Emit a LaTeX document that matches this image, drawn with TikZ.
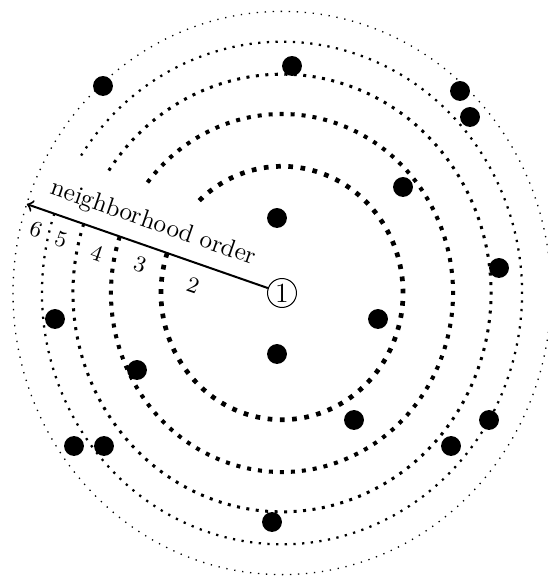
\documentclass[tikz,border=0pt]{standalone}
\begin{document}
\begin{tikzpicture}[x=0.397pt,y=0.397pt,
  c2/.style={line width=1.87pt, dash pattern=on 1.87pt off 3.0pt},
  c3/.style={line width=1.6pt, dash pattern=on 1.6pt off 2.77pt},
  c4/.style={line width=1.2pt, dash pattern=on 1.2pt off 2.57pt},
  c5/.style={line width=0.9pt, dash pattern=on 0.9pt off 2.55pt},
  c6/.style={line width=0.52pt, dash pattern=on 0.52pt off 2.66pt},
  dot/.style={circle, fill=black, inner sep=0pt, minimum size=7.9pt},
  lbl/.style={rotate=-19.2, font=\small, inner sep=0pt},
]
\useasboundingbox (-282,-287) rectangle (265,293);
% neighborhood rings
\draw[c6] (0,0) ellipse[x radius=269, y radius=281.6];
\draw[c5] (161.6:240 and 251.3) arc[start angle=161.6, end angle=508.3, x radius=240, y radius=251.3];
\draw[c4] (161.6:209 and 218.8) arc[start angle=161.6, end angle=506.8, x radius=209, y radius=218.8];
\draw[c3] (161.6:171 and 179) arc[start angle=161.6, end angle=503, x radius=171, y radius=179];
\draw[c2] (161.6:121 and 126.7) arc[start angle=161.6, end angle=494.7, x radius=121, y radius=126.7];
% points
\node[dot] (d1) at (-179,207) {};
\node[dot] (d2) at (10,227) {};
\node[dot] (d3) at (178,202) {};
\node[dot] (d4) at (188,176) {};
\node[dot] (d5) at (121,106) {};
\node[dot] (d6) at (-5,75) {};
\node[dot] (d7) at (217,25) {};
\node[dot] (d8) at (-227,-26) {};
\node[dot] (d9) at (96,-26) {};
\node[dot] (d10) at (-145,-77) {};
\node[dot] (d11) at (-5,-61) {};
\node[dot] (d12) at (72,-127) {};
\node[dot] (d13) at (207,-127) {};
\node[dot] (d14) at (169,-153) {};
\node[dot] (d15) at (-208,-153) {};
\node[dot] (d16) at (-178,-153) {};
\node[dot] (d17) at (-10,-229) {};
% centre node and arrow
\node[draw, circle, inner sep=0pt, minimum size=11.5pt, font=\fontsize{11}{13}\selectfont] (n1) at (0,0) {1};
\coordinate (tip) at (161.6:269 and 281.6);
\draw[->, line width=0.8pt] (n1) -- (tip);
\node[rotate=-19.2] (lab) at (-128.8,69.4) {neighborhood order};
\node[lbl] (k2) at (-89,8) {2};
\node[lbl] (k3) at (-142,28) {3};
\node[lbl] (k4) at (-185,40) {4};
\node[lbl] (k5) at (-221,53.5) {5};
\node[lbl] (k6) at (-246,63) {6};
\end{tikzpicture}
\end{document}
